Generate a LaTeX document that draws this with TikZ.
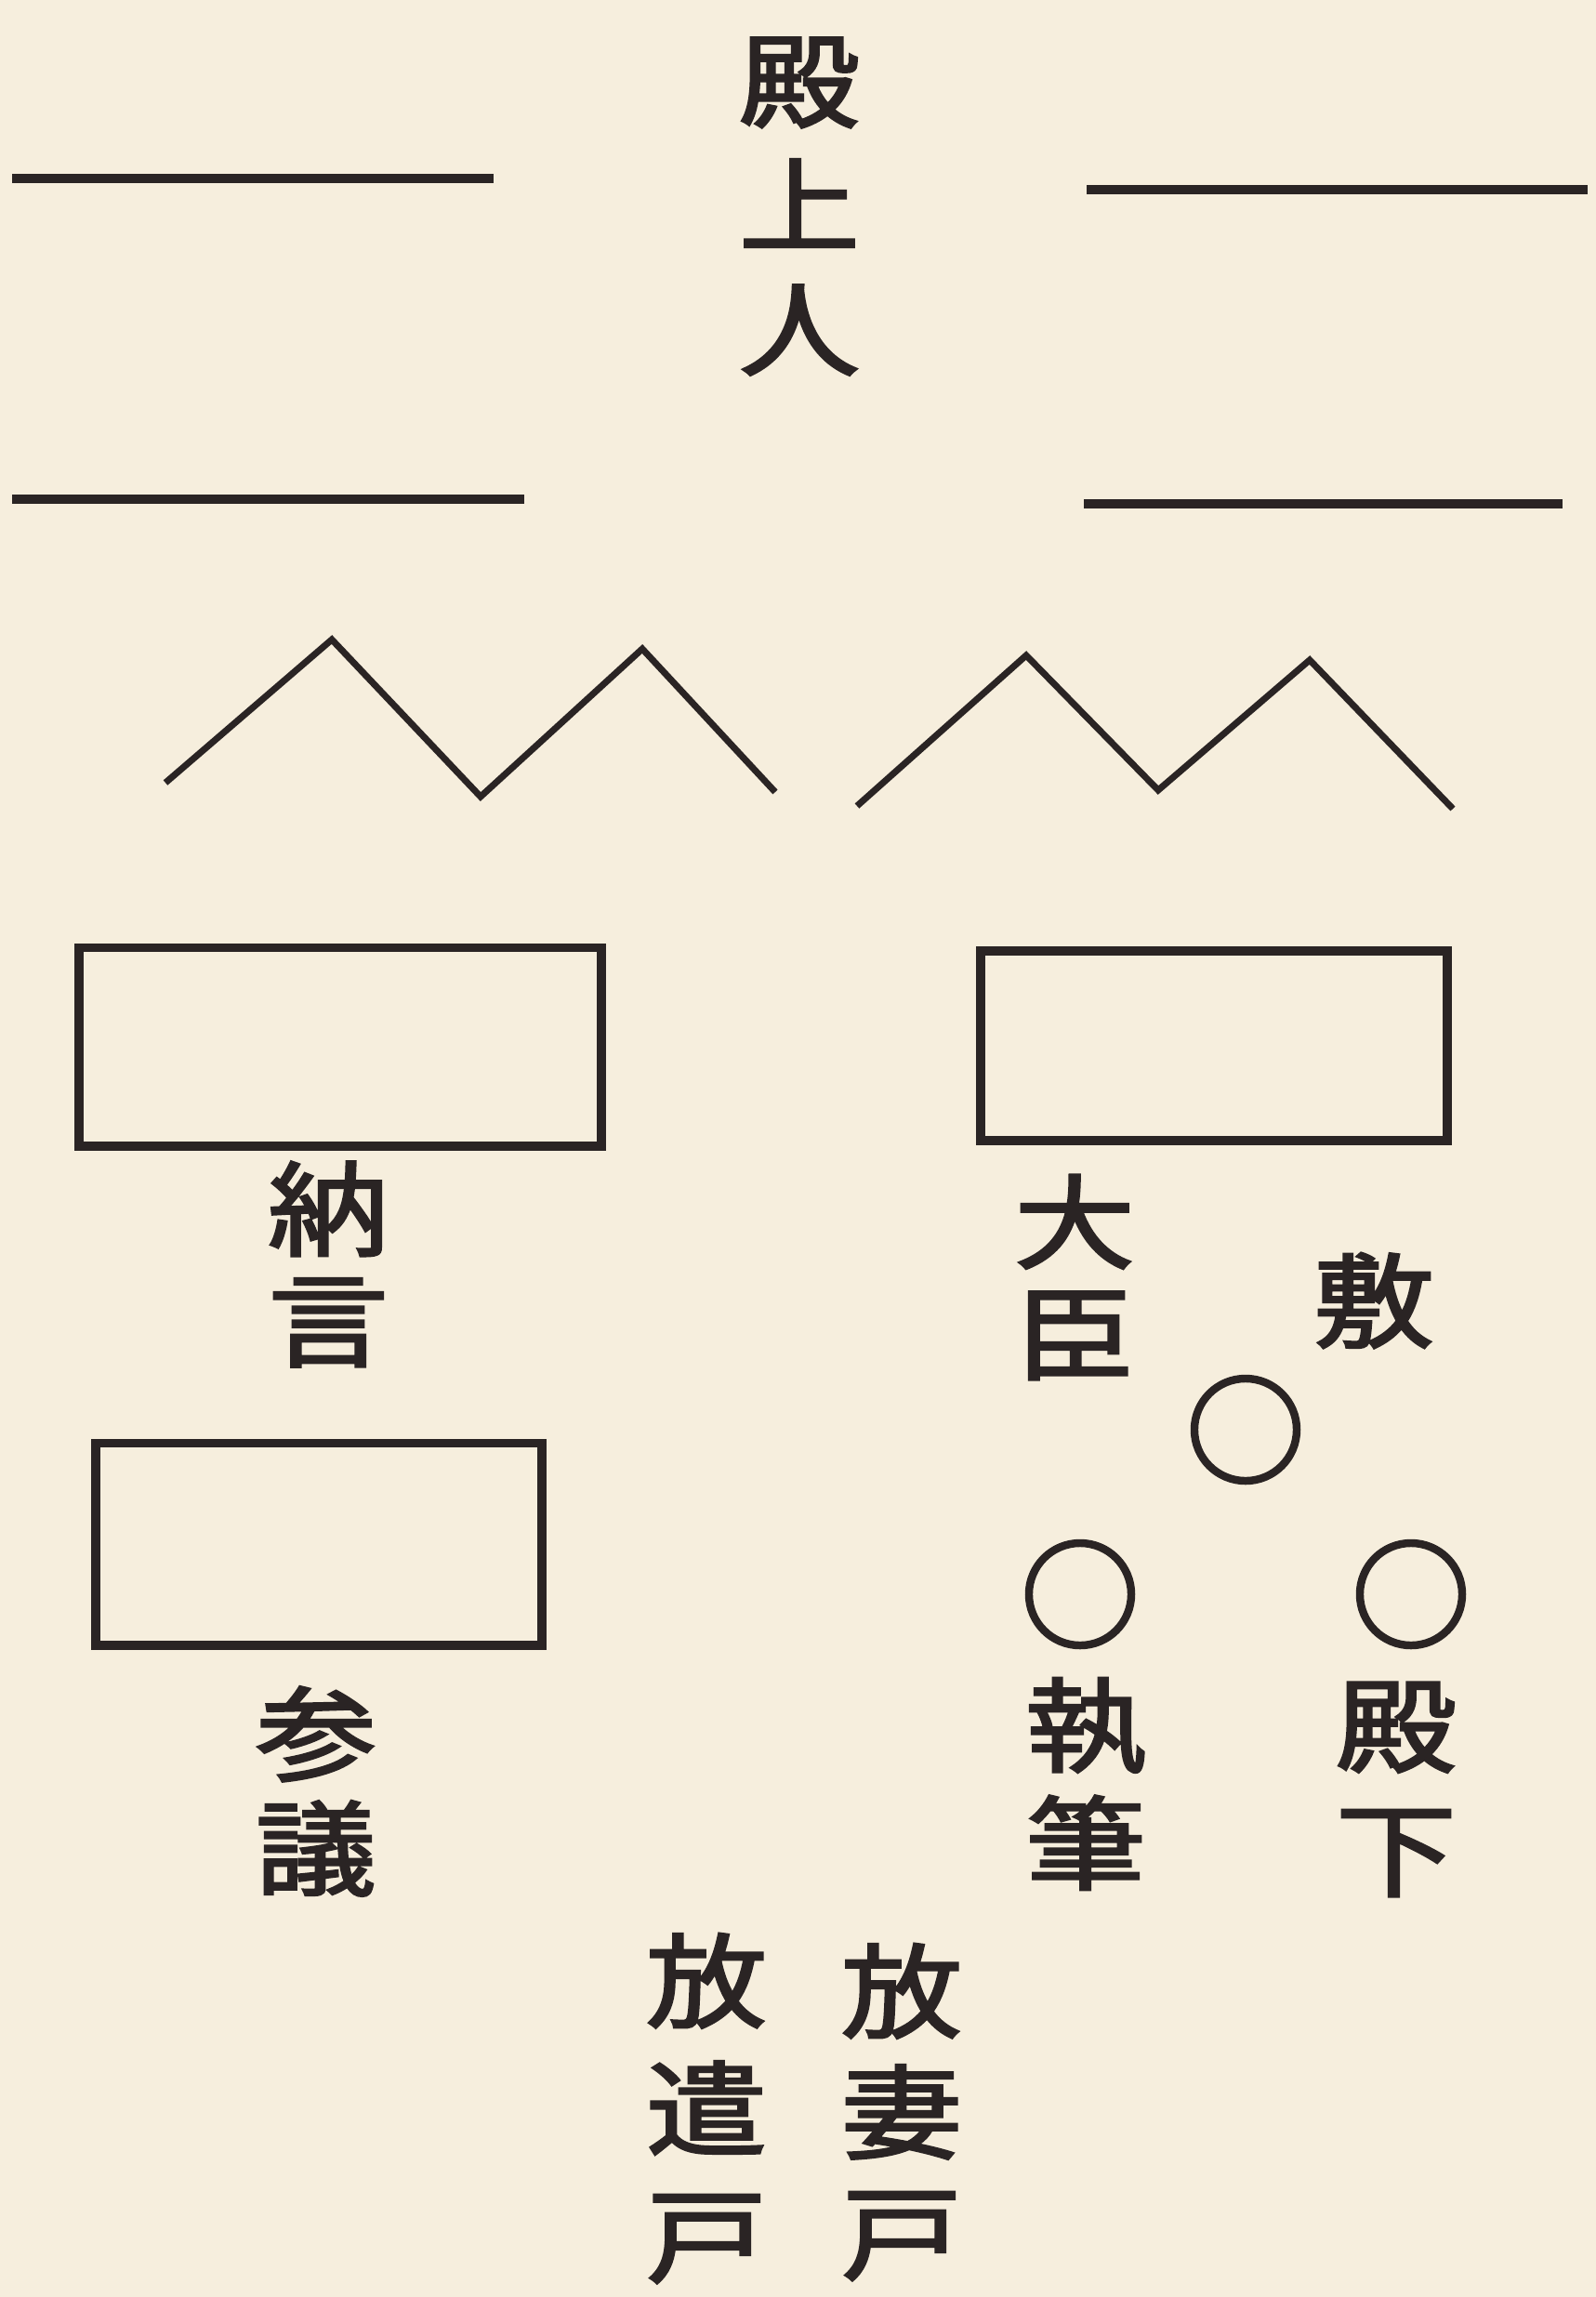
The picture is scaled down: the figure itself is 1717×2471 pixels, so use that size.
\documentclass[tikz,border=0pt]{standalone}
\usepackage{fontspec}
\usepackage{graphicx}
\newfontfamily\jp[FakeBold=2.2]{Noto Sans CJK JP}
\definecolor{paper}{RGB}{246,238,221}
\definecolor{ink}{RGB}{42,36,36}
\newcommand\sq[1]{\scalebox{1}[.85]{#1}}
\begin{document}
\begin{tikzpicture}[x=0.01cm,y=-0.01cm,
    tate/.style={font=\jp\fontsize{37}{#1}\selectfont,align=center,inner sep=0pt,text=ink},
    tate/.default=36,
    screen/.style={draw=ink,line width=2.8pt,inner sep=0pt},
    seat/.style={draw=ink,circle,line width=2.4pt,minimum size=1.1cm,inner sep=0pt},
    rail/.style={draw=ink,line width=2.6pt},
    zig/.style={draw=ink,line width=2pt,line join=miter}]
            \fill[paper] (0,0) rectangle (1717,2471);
            \draw[rail] (13,192) -- (531,192);
            \draw[rail] (1169,204) -- (1708,204);
            \draw[rail] (13,537) -- (564,537);
            \draw[rail] (1166,542) -- (1681,542);
            \node[tate=38] (T0) at (860,222) {\sq{殿}\\\sq{上}\\\sq{人}};
            \draw[zig] (178,842) -- (357,688) -- (517,857) -- (691,698) -- (834,852);
            \draw[zig] (922,867) -- (1104,705) -- (1246,850) -- (1409,710) -- (1563,870);
            \node[screen,minimum width=5.62cm,minimum height=2.13cm] (B0) at (366,1126) {};
            \node[screen,minimum width=5.02cm,minimum height=2.04cm] (B1) at (1306,1125) {};
            \node[screen,minimum width=4.80cm,minimum height=2.17cm] (B2) at (343,1661) {};
            \node[tate=34] (T1) at (353,1360) {\sq{納}\\\sq{言}};
            \node[tate=34] (T2) at (1156,1374) {\sq{大}\\\sq{臣}};
            \node[tate] (T3) at (1478,1399) {\sq{敷}};
            \node[seat] (C0) at (1340,1538) {};
            \node[seat] (C1) at (1162,1715) {};
            \node[seat] (C2) at (1518,1715) {};
            \node[tate=36] (T4) at (1168,1919) {\sq{執}\\\sq{筆}};
            \node[tate=38] (T5) at (1502,1925) {\sq{殿}\\\sq{下}};
            \node[tate=35] (T6) at (340,1927) {\sq{参}\\\sq{議}};
            \node[tate=39] (T7) at (760,2268) {\sq{放}\\\sq{遣}\\\sq{戸}};
            \node[tate=37] (T8) at (970,2272) {\sq{放}\\\sq{妻}\\\sq{戸}};
        \end{tikzpicture}
\end{document}
